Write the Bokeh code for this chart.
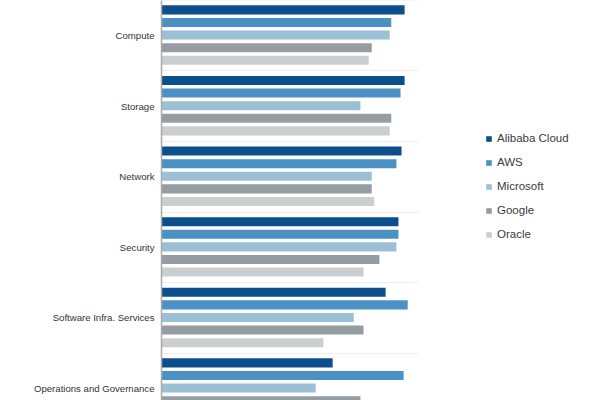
from bokeh.plotting import figure
from bokeh.models import ColumnDataSource, Range1d, FixedTicker, Legend, LegendItem
from bokeh.embed import file_html
from bokeh.resources import INLINE

categories = ["Compute", "Storage", "Network", "Security",
              "Software Infra. Services", "Operations and Governance"]
providers = ["Alibaba Cloud", "AWS", "Microsoft", "Google", "Oracle"]
colors = ["#0D4F8C", "#4B91C3", "#9BBFD5", "#959CA2", "#CBCECF"]

alibaba = [4.73, 4.73, 4.67, 4.61, 4.36, 3.33]
aws = [4.47, 4.65, 4.57, 4.61, 4.79, 4.71]
microsoft = [4.44, 3.87, 4.09, 4.57, 3.74, 3.00]
google = [4.09, 4.47, 4.09, 4.24, 3.93, 3.87]
oracle = [4.03, 4.44, 4.14, 3.93, 3.15, 3.50]
series = [alibaba, aws, microsoft, google, oracle]

p = figure(frame_width=257, frame_height=400, output_backend="svg", toolbar_location=None,
           x_range=Range1d(0, 5.0), y_range=Range1d(5.670, 0.004),
           min_border_left=161, min_border_right=0, min_border_top=0, min_border_bottom=0)
p.outline_line_color = None
p.background_fill_color = "white"

pitch = 0.1785
bh = 0.128
items = []
for k, (name, vals, col) in enumerate(zip(providers, series, colors)):
    ys = [g + 0.5 + (k - 2) * pitch - 0.006 for g in range(len(categories))]
    src = ColumnDataSource(dict(y=ys, right=vals))
    r = p.hbar(y="y", right="right", left=0, height=bh, source=src,
               fill_color=col, line_color=None)
    items.append(LegendItem(label=name, renderers=[r]))

p.xaxis.visible = False
p.xgrid.visible = False
p.ygrid.ticker = FixedTicker(ticks=list(range(0, 7)))
p.ygrid.grid_line_color = "#EEEEEE"
p.ygrid.grid_line_width = 1

p.yaxis.ticker = FixedTicker(ticks=[g + 0.5 for g in range(len(categories))])
p.yaxis.major_label_overrides = {g + 0.5: c for g, c in enumerate(categories)}
p.yaxis.major_tick_line_color = None
p.yaxis.minor_tick_line_color = None
p.yaxis.major_tick_out = 0
p.yaxis.major_tick_in = 0
p.yaxis.axis_line_color = "#AAAAAA"
p.yaxis.axis_line_width = 1.5
p.yaxis.major_label_text_font = "Liberation Sans"
p.yaxis.major_label_text_font_size = "9.6px"
p.yaxis.major_label_text_color = "#333333"
p.yaxis.major_label_standoff = 7

legend = Legend(items=items, location=(67, 159))
legend.border_line_color = None
legend.background_fill_alpha = 0
legend.glyph_width = 7
legend.glyph_height = 7
legend.label_height = 14
legend.spacing = 10
legend.label_standoff = 5
legend.label_text_font = "Liberation Sans"
legend.label_text_font_size = "11.5px"
legend.label_text_color = "#3A3A3A"
legend.padding = 0
legend.margin = 0
p.add_layout(legend, "right")

open("out.html", "w").write(file_html(p, INLINE))
